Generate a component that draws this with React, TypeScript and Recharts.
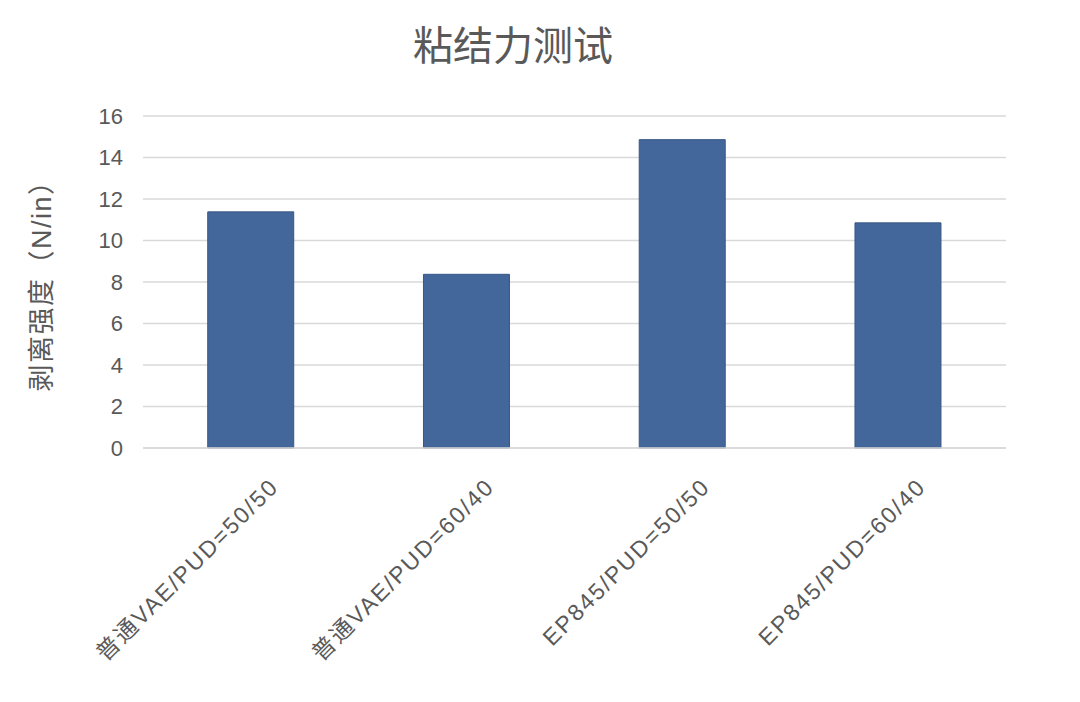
import React from 'react';
import { BarChart, Bar, XAxis, YAxis, CartesianGrid } from 'recharts';

const categories = ['普通VAE/PUD=50/50', '普通VAE/PUD=60/40', 'EP845/PUD=50/50', 'EP845/PUD=60/40'];
const peelStrength = [11.38, 8.37, 14.86, 10.85];
const yTicks = [0, 2, 4, 6, 8, 10, 12, 14, 16];

const data = categories.map((name, i) => ({ name, value: peelStrength[i] }));

const FONT = '"Liberation Sans", Arial, "Noto Sans CJK SC", sans-serif';
const TEXT = '#595959';

const XTick = (props: any) => {
  const { x, y, payload } = props;
  return (
    <g transform={`translate(${x + 29},${y + 40})`}>
      <text textAnchor="end" transform="rotate(-45)" fontSize={23} letterSpacing={2} fill={TEXT} fontFamily={FONT}>
        {payload.value}
      </text>
    </g>
  );
};

const YLabel = (props: any) => {
  const { viewBox } = props;
  const cy = viewBox.y + viewBox.height / 2 - 3;
  const cx = 42;
  return (
    <text x={cx} y={cy} transform={`rotate(-90, ${cx}, ${cy})`} textAnchor="middle" dominantBaseline="central" fontSize={27} letterSpacing={1.5} fill={TEXT} fontFamily={FONT}>
      剥离强度（N/in）
    </text>
  );
};

export default function App() {
  return (
    <div style={{ position: 'absolute', left: 0, top: 0, width: 1080, height: 702, background: '#fff' }}>
      <div style={{ position: 'absolute', left: 0, top: 21, width: 1026, textAlign: 'center', fontSize: 40, color: TEXT, fontFamily: FONT, lineHeight: '50px' }}>
        粘结力测试
      </div>
      <BarChart width={1080} height={702} data={data} margin={{ top: 116, right: 74, bottom: 0, left: 0 }} barCategoryGap="30%">
        <CartesianGrid vertical={false} stroke="#d9d9d9" strokeWidth={1.5} />
        <XAxis dataKey="name" height={254} tickSize={0} tickMargin={0} axisLine={{ stroke: '#d9d9d9', strokeWidth: 1.5 }} tickLine={false} tick={<XTick />} interval={0} />
        <YAxis width={143} domain={[0, 16]} ticks={yTicks} tickSize={0} tickMargin={20} axisLine={false} tickLine={false}
          tick={{ fontSize: 22, fill: TEXT, fontFamily: FONT }} label={<YLabel />} />
        <Bar dataKey="value" fill="#44679B" stroke="#375886" strokeWidth={1} isAnimationActive={false} />
      </BarChart>
    </div>
  );
}
